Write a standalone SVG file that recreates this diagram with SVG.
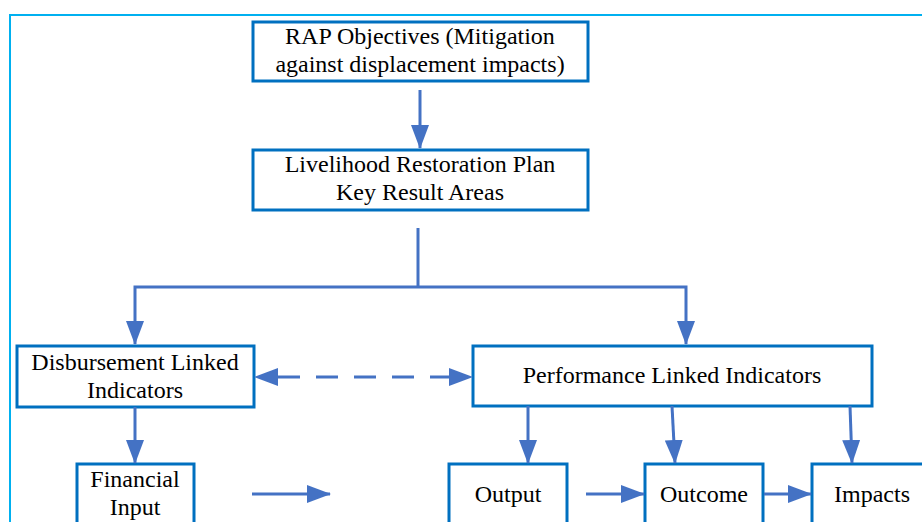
<svg xmlns="http://www.w3.org/2000/svg" width="922" height="522" viewBox="0 0 922 522">
<style>
.box{fill:#fff;stroke:#0070C0;stroke-width:3}
.t{font-family:'Liberation Serif','Times New Roman',Times,serif;font-size:24px;fill:#000;text-anchor:middle}
.c{fill:none;stroke:#4472C4;stroke-width:3;marker-end:url(#ah)}
</style>
<defs>
<marker id="ah" markerUnits="userSpaceOnUse" markerWidth="24" markerHeight="18" refX="23" refY="9" orient="auto-start-reverse" viewBox="0 0 24 18">
<path d="M0,0 L24,9 L0,18 z" fill="#4472C4"/>
</marker>
</defs>
<rect width="922" height="522" fill="#fff"/>
<path d="M10,522 V15 H922" fill="none" stroke="#00B0F0" stroke-width="2"/>
<g id="n1"><rect class="box" x="253" y="22" width="335" height="59"/>
<text class="t" x="420" y="44">RAP Objectives (Mitigation</text>
<text class="t" x="420" y="72">against displacement impacts)</text></g>
<g id="n2"><rect class="box" x="253" y="150" width="335" height="60"/>
<text class="t" x="420" y="172">Livelihood Restoration Plan</text>
<text class="t" x="420" y="200">Key Result Areas</text></g>
<g id="n3"><rect class="box" x="17" y="346" width="237" height="61"/>
<text class="t" x="135" y="370">Disbursement Linked</text>
<text class="t" x="135" y="398">Indicators</text></g>
<g id="n4"><rect class="box" x="473" y="346" width="399" height="60"/>
<text class="t" x="672" y="383">Performance Linked Indicators</text></g>
<g id="n5"><rect class="box" x="77" y="464" width="117" height="70"/>
<text class="t" x="135" y="487">Financial</text>
<text class="t" x="135" y="515">Input</text></g>
<g id="n6"><rect class="box" x="449" y="464" width="118" height="70"/>
<text class="t" x="508" y="502">Output</text></g>
<g id="n7"><rect class="box" x="645" y="464" width="118" height="70"/>
<text class="t" x="704" y="502">Outcome</text></g>
<g id="n8"><rect class="box" x="812" y="464" width="130" height="70"/>
<text class="t" x="872" y="502">Impacts</text></g>
<g id="connectors">
<path class="c" d="M420,90 V148"/>
<path d="M418,228 V287" fill="none" stroke="#4472C4" stroke-width="3"/>
<path class="c" d="M418,287 H135 V344"/>
<path class="c" d="M418,287 H686 V344"/>
<path class="c" d="M135,407 V463"/>
<path class="c" d="M255,377 H472" stroke-dasharray="0 23 22 16 22 16 22 16 22 16 22 100" style="marker-start:url(#ah)"/>
<path class="c" d="M252,494 H330"/>
<path class="c" d="M528,406 V463"/>
<path class="c" d="M672,406 L675,463"/>
<path class="c" d="M850,406 L852,463"/>
<path class="c" d="M586,494 H644"/>
<path class="c" d="M764,494 H811"/>
</g>
</svg>
